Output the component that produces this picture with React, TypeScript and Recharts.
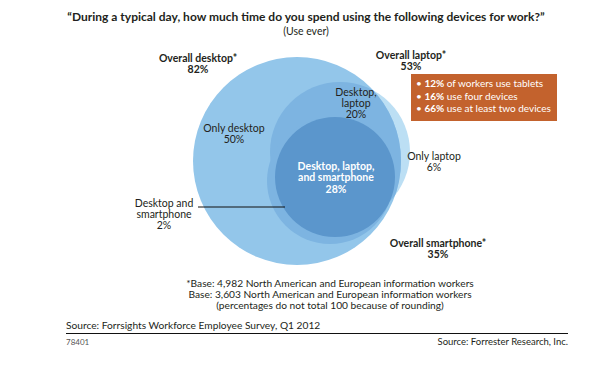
import { ScatterChart, Scatter, XAxis, YAxis } from 'recharts'

// survey numbers
const setNames = ['Overall desktop*', 'Overall laptop*', 'Overall smartphone*']
const setValues = [82, 53, 35]
const regionNames = [
  ['Only desktop'],
  ['Desktop,', 'laptop'],
  ['Desktop, laptop,', 'and smartphone'],
  ['Only laptop'],
  ['Desktop and', 'smartphone'],
]
const regionValues = [50, 20, 28, 6, 2]
const calloutValues = [12, 16, 66]
const calloutTexts = ['of workers use tablets', 'use four devices', 'use at least two devices']
const footnotes = [
  '*Base: 4,982 North American and European information workers',
  'Base: 3,603 North American and European information workers',
  '(percentages do not total 100 because of rounding)',
]

// layout, in the 600x375 frame (1 unit = 1px)
const W = 600
const H = 375
const FONT = 'Lato, "Open Sans", sans-serif'
const INK = '#231f20'

const circles = [
  { key: 'laptopOuter', x: 340, y: 152, r: 70, fill: '#bcdff4' },
  { key: 'desktop', x: 297, y: 161, r: 104, fill: '#93c6ea', clipId: 'deskClip' },
  { key: 'laptopInner', x: 340, y: 152, r: 70, fill: '#7db4e1', clip: 'deskClip' },
  { key: 'phoneBand', x: 330, y: 181, r: 63, fill: '#7db4e1' },
  { key: 'core', x: 335, y: 177, r: 60, fill: '#5b96cc' },
]
const setLabelPos = [
  { x: 198, y: 58 },
  { x: 411, y: 55 },
  { x: 438, y: 243 },
]
const regionLabelPos = [
  { x: 234, y: 128 },
  { x: 356, y: 92 },
  { x: 336, y: 166 },
  { x: 434, y: 156 },
  { x: 164, y: 203 },
]
// leader line for the "Desktop and smartphone" sliver
const leader = [
  { x: 198, y: 207 },
  { x: 285, y: 207 },
]

const setLabels = setNames.map((n, i) => ({ ...setLabelPos[i], lines: [n, `${setValues[i]}%`], bold: true, color: INK }))
const regionLabels = regionNames.map((n, i) => ({
  ...regionLabelPos[i],
  lines: [...n, `${regionValues[i]}%`],
  bold: i === 2,
  color: i === 2 ? '#ffffff' : INK,
}))

// eslint-disable-next-line @typescript-eslint/no-explicit-any
const circleShape = (props: any) => {
  const p = props.payload
  return (
    <g>
      {p.clipId && (
        <defs>
          <clipPath id={p.clipId}>
            <circle cx={props.cx} cy={props.cy} r={p.r} />
          </clipPath>
        </defs>
      )}
      <circle
        cx={props.cx}
        cy={props.cy}
        r={p.r}
        fill={p.fill}
        clipPath={p.clip ? `url(#${p.clip})` : undefined}
      />
    </g>
  )
}

// eslint-disable-next-line @typescript-eslint/no-explicit-any
const labelShape = (props: any) => {
  const p = props.payload
  const lh = p.bold ? 11.5 : 11
  return (
    <text
      x={props.cx}
      y={props.cy + 3.8}
      textAnchor="middle"
      fontFamily={FONT}
      fontSize={10.5}
      fontWeight={p.bold ? 700 : 400}
      fill={p.color}
    >
      {p.lines.map((l: string, i: number) => (
        <tspan key={i} x={props.cx} dy={i === 0 ? 0 : lh}>
          {l}
        </tspan>
      ))}
    </text>
  )
}

const abs = (left: number, top: number, extra: React.CSSProperties = {}): React.CSSProperties => ({
  position: 'absolute',
  left,
  top,
  fontFamily: FONT,
  color: INK,
  whiteSpace: 'nowrap',
  ...extra,
})

export default function App() {
  return (
    <div style={{ position: 'absolute', left: 0, top: 0, width: W, height: H, background: '#fff' }}>
      <ScatterChart width={W} height={H} margin={{ top: 0, right: 0, bottom: 0, left: 0 }}>
        <XAxis type="number" dataKey="x" domain={[0, W]} hide allowDataOverflow />
        <YAxis type="number" dataKey="y" domain={[0, H]} reversed hide allowDataOverflow />
        {circles.map((c) => (
          <Scatter key={c.key} data={[c]} shape={circleShape} isAnimationActive={false} />
        ))}
        <Scatter
          data={leader}
          line={{ stroke: '#111', strokeWidth: 1 }}
          shape={() => <g />}
          isAnimationActive={false}
        />
        <Scatter data={setLabels} shape={labelShape} isAnimationActive={false} />
        <Scatter data={regionLabels} shape={labelShape} isAnimationActive={false} />
      </ScatterChart>

      <div style={abs(0, 10, { width: 612, textAlign: 'center', fontSize: 12, lineHeight: '14px', fontWeight: 700 })}>
        “During a typical day, how much time do you spend using the following devices for work?”
      </div>
      <div style={abs(0, 24, { width: 612, textAlign: 'center', fontSize: 10.5, lineHeight: '14px' })}>(Use ever)</div>

      <div
        style={abs(411, 74, {
          width: 146,
          height: 47,
          background: '#c3622d',
          color: '#fff',
          fontSize: 10,
          lineHeight: '12.5px',
          padding: '3px 0 0 5px',
          boxSizing: 'border-box',
        })}
      >
        {calloutValues.map((v, i) => (
          <div key={i}>
            • <b>{v}%</b> {calloutTexts[i]}
          </div>
        ))}
      </div>

      {footnotes.map((f, i) => (
        <div key={i} style={abs(130, 278 + i * 11, { width: 400, textAlign: 'center', fontSize: 10.2, lineHeight: '11px' })}>
          {f}
        </div>
      ))}

      <div style={abs(66, 318, { fontSize: 10.2, lineHeight: '14px' })}>
        Source: Forrsights Workforce Employee Survey, Q1 2012
      </div>
      <div style={{ position: 'absolute', left: 66, top: 333, width: 502, height: 1, background: '#111' }} />
      <div style={abs(66, 337, { fontSize: 8, lineHeight: '10px', color: '#555' })}>78401</div>
      <div style={abs(368, 336, { width: 200, textAlign: 'right', fontSize: 9.5, lineHeight: '12px' })}>
        Source: Forrester Research, Inc.
      </div>
    </div>
  )
}
